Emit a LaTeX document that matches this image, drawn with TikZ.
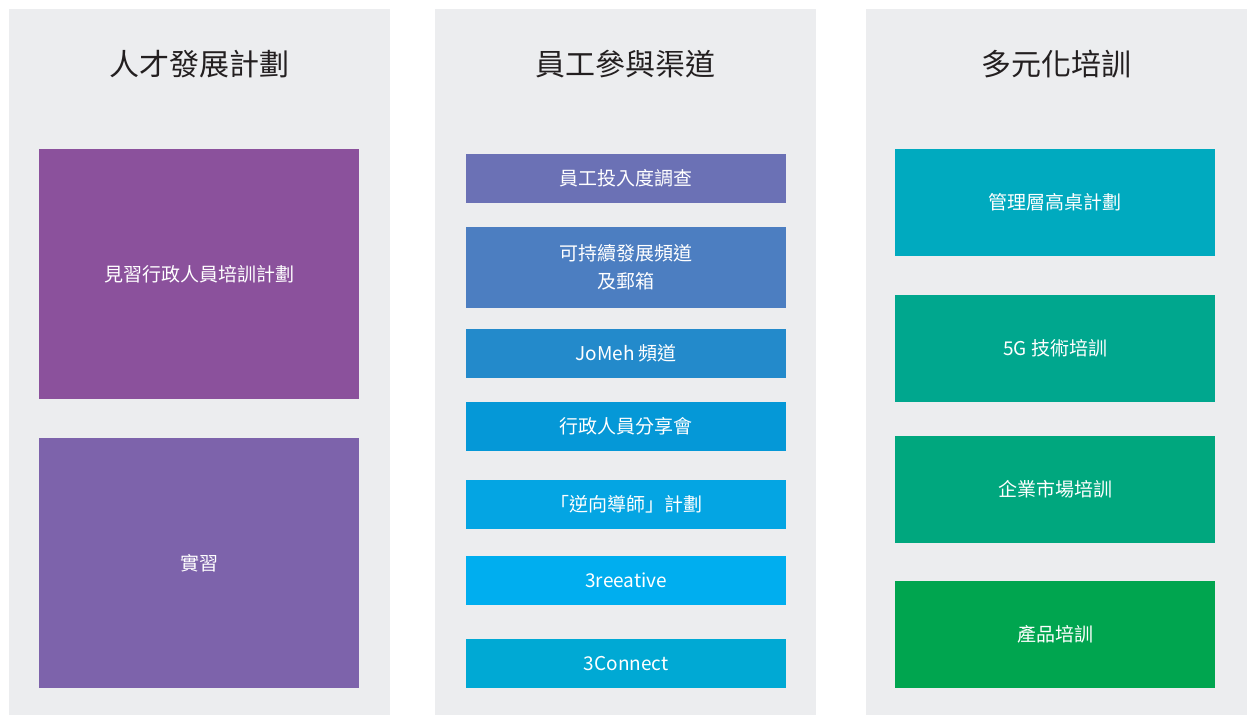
\documentclass[tikz,border=0pt]{standalone}
\usepackage{fontspec}
\setmainfont{Noto Sans CJK TC}
\newfontfamily\cjk{Noto Sans CJK TC}
\definecolor{panelbg}{HTML}{ECEDEF}
\definecolor{titlec}{HTML}{231F20}
\definecolor{cA}{HTML}{8B519C}
\definecolor{cB}{HTML}{7D63AB}
\definecolor{mA}{HTML}{6B71B5}
\definecolor{mB}{HTML}{4C7EC1}
\definecolor{mC}{HTML}{238ACB}
\definecolor{mD}{HTML}{0598D7}
\definecolor{mE}{HTML}{04A5E3}
\definecolor{mF}{HTML}{00AEEF}
\definecolor{mG}{HTML}{00A9D4}
\definecolor{rA}{HTML}{00AABF}
\definecolor{rB}{HTML}{00A78E}
\definecolor{rC}{HTML}{00A77E}
\definecolor{rD}{HTML}{00A54F}
\tikzset{
  panel/.style={fill=panelbg, draw=none, anchor=north west, inner sep=0pt, minimum width=381pt},
  ptitle/.style={font=\cjk\fontsize{30}{36}\selectfont, text=titlec, anchor=center},
  box/.style={draw=none, anchor=north west, inner sep=0pt, minimum width=320pt, text=white,
    font=\cjk\fontsize{19}{28}\selectfont, align=center},
}
\begin{document}
\begin{tikzpicture}[x=1pt,y=-1pt]
\useasboundingbox (0,0) rectangle (1247,715);
\fill[white] (0,0) rectangle (1247,715);
% panels
\node[panel, minimum height=706pt] (p1) at (9,9) {};
\node[panel, minimum height=706pt] (p2) at (435,9) {};
\node[panel, minimum height=706pt] (p3) at (866,9) {};
% titles
\node[ptitle] (t1) at (199.5,64) {人才發展計劃};
\node[ptitle] (t2) at (625.5,64) {員工參與渠道};
\node[ptitle] (t3) at (1056,64) {多元化培訓};
% left boxes
\node[box, fill=cA, minimum height=250pt] (l1) at (39,149) {見習行政人員培訓計劃};
\node[box, fill=cB, minimum height=250pt] (l2) at (39,438) {實習};
% middle boxes
\node[box, fill=mA, minimum height=49pt] (m1) at (466,154) {員工投入度調查};
\node[box, fill=mB, minimum height=81pt] (m2) at (466,227) {可持續發展頻道\\及郵箱};
\node[box, fill=mC, minimum height=49pt] (m3) at (466,329) {JoMeh 頻道};
\node[box, fill=mD, minimum height=49pt] (m4) at (466,402) {行政人員分享會};
\node[box, fill=mE, minimum height=49pt] (m5) at (466,480) {「逆向導師」計劃};
\node[box, fill=mF, minimum height=49pt] (m6) at (466,556) {3reeative};
\node[box, fill=mG, minimum height=49pt] (m7) at (466,639) {3Connect};
% right boxes
\node[box, fill=rA, minimum height=107pt] (r1) at (895,149) {管理層高桌計劃};
\node[box, fill=rB, minimum height=107pt] (r2) at (895,295) {5G 技術培訓};
\node[box, fill=rC, minimum height=107pt] (r3) at (895,436) {企業市場培訓};
\node[box, fill=rD, minimum height=107pt] (r4) at (895,581) {產品培訓};
\end{tikzpicture}
\end{document}
